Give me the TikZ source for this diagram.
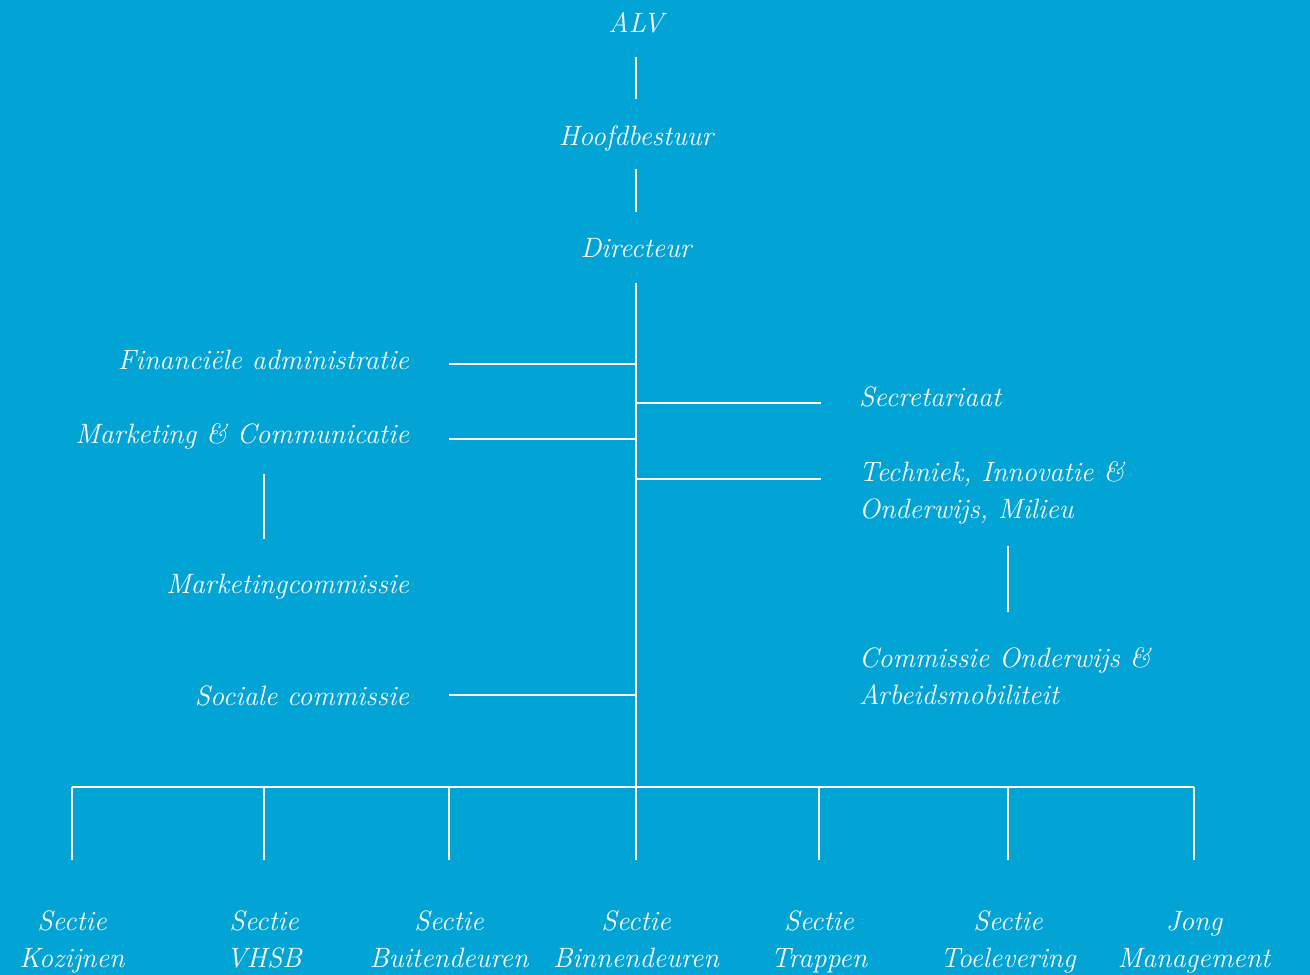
\documentclass[tikz,border=0pt]{standalone}
\usepackage{fontspec}
\usetikzlibrary{positioning}
\definecolor{bgblue}{RGB}{2,164,214}

\tikzset{
  lbl/.style={text=white, inner sep=0pt, font=\fontsize{28}{37}\selectfont\itshape},
  link/.style={draw=white, line width=2pt},
}

\begin{document}
\begin{tikzpicture}[x=1pt, y=-1pt, link]
  \fill[bgblue] (0,0) rectangle (1310,975);
  \useasboundingbox (0,0) rectangle (1310,975);

  % Top of the tree
  \node[lbl, anchor=base] (alv) at (636,32) {ALV};
  \node[lbl, anchor=base] (hb) at (636,145) {Hoofdbestuur};
  \node[lbl, anchor=base] (dir) at (636,257) {Directeur};

  % Staff on the left
  \node[lbl, anchor=base east] (fin) at (410,369) {Financiële administratie};
  \node[lbl, anchor=base east] (mkt) at (410,443) {Marketing \& Communicatie};
  \node[lbl, anchor=base east] (mcom) at (410,593) {Marketingcommissie};
  \node[lbl, anchor=base east] (soc) at (410,705) {Sociale commissie};

  % Staff on the right (base = last line)
  \node[lbl, anchor=base west] (sec) at (858,406) {Secretariaat};
  \node[lbl, anchor=base west, align=left] (tio) at (858,518) {Techniek, Innovatie \&\\Onderwijs, Milieu};
  \node[lbl, anchor=base west, align=left] (coa) at (858,704) {Commissie Onderwijs \&\\Arbeidsmobiliteit};

  % Sections
  \node[lbl, anchor=base, align=center] (koz) at (72,967) {Sectie\\Kozijnen};
  \node[lbl, anchor=base, align=center] (vhsb) at (264,967) {Sectie\\VHSB};
  \node[lbl, anchor=base, align=center] (bui) at (449,967) {Sectie\\Buitendeuren};
  \node[lbl, anchor=base, align=center] (bin) at (636,967) {Sectie\\Binnendeuren};
  \node[lbl, anchor=base, align=center] (tra) at (819,967) {Sectie\\Trappen};
  \node[lbl, anchor=base, align=center] (toe) at (1008,967) {Sectie\\Toelevering};
  \node[lbl, anchor=base, align=center] (jong) at (1194,967) {Jong\\Management};

  % Spine
  \coordinate (bus) at (636,787);
  \draw[shorten <=25pt, shorten >=46pt] (alv.base) -- (hb.base);
  \draw[shorten <=24pt, shorten >=45pt] (hb.base) -- (dir.base);
  \draw[shorten <=26pt] (dir.base) -- (bus);

  % Branches off the spine
  \coordinate (bfin) at (636,364);
  \coordinate (bmkt) at (636,439);
  \coordinate (bsoc) at (636,695);
  \coordinate (bsec) at (636,403);
  \coordinate (btio) at (636,479);
  \draw[shorten >=39pt] (bfin) -- (bfin -| fin.east);
  \draw[shorten >=39pt] (bmkt) -- (bmkt -| mkt.east);
  \draw[shorten >=39pt] (bsoc) -- (bsoc -| soc.east);
  \draw[shorten >=37pt] (bsec) -- (bsec -| sec.west);
  \draw[shorten >=37pt] (btio) -- (btio -| tio.west);

  % Committees under their staff
  \coordinate (mkx) at (264,0);
  \coordinate (tix) at (1008,0);
  \draw[shorten <=31pt, shorten >=54pt] (mkt.base -| mkx) -- (mcom.base -| mkx);
  \draw[shorten <=28pt, shorten >=92pt] (tio.base -| tix) -- (coa.base -| tix);

  % Bus to the sections
  \draw (bus -| koz) -- (bus -| jong);
  \foreach \s in {koz, vhsb, bui, bin, tra, toe, jong}
    \draw (bus -| \s) -- ++(0,73);
\end{tikzpicture}
\end{document}
